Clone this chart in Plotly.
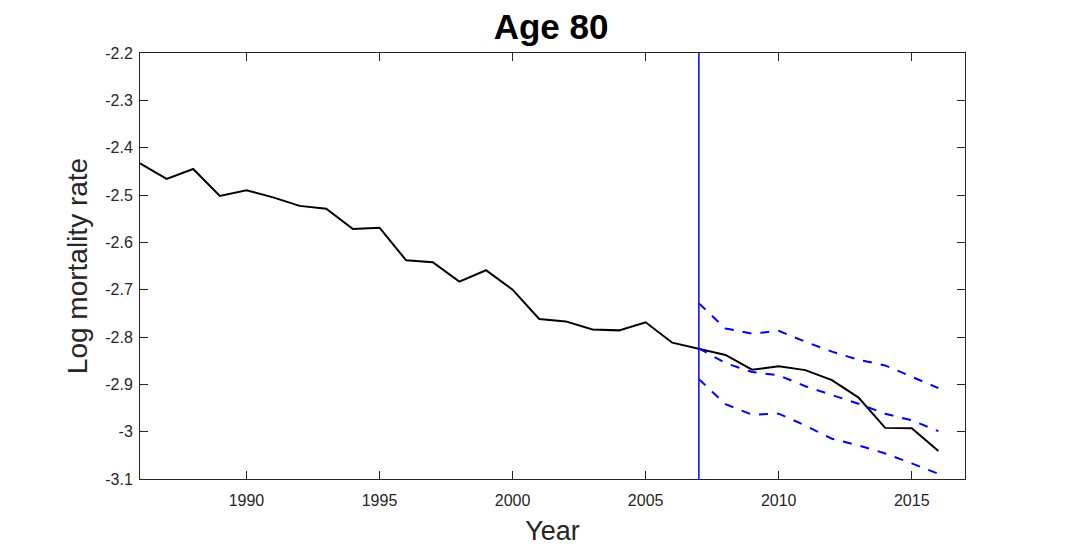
import plotly.graph_objects as go

years = list(range(1986, 2017))
observed = [-2.433, -2.466, -2.445, -2.502, -2.490, -2.505, -2.523, -2.529, -2.572, -2.569,
            -2.638, -2.642, -2.683, -2.659, -2.700, -2.762, -2.767, -2.784, -2.786, -2.769,
            -2.812, -2.825, -2.838, -2.869, -2.862, -2.870, -2.891, -2.928, -2.992, -2.993,
            -3.041]

fc_years = list(range(2007, 2017))
fc_upper = [-2.729, -2.782, -2.793, -2.787, -2.810, -2.831, -2.848, -2.860, -2.884, -2.908]
fc_mid = [-2.824, -2.855, -2.874, -2.881, -2.904, -2.923, -2.941, -2.962, -2.976, -2.999]
fc_lower = [-2.889, -2.942, -2.964, -2.962, -2.987, -3.015, -3.029, -3.046, -3.067, -3.089]

forecast_start = 2007
xtick_vals = [1990, 1995, 2000, 2005, 2010, 2015]
ytick_vals = [-2.2, -2.3, -2.4, -2.5, -2.6, -2.7, -2.8, -2.9, -3.0, -3.1]
ytick_text = ["-2.2", "-2.3", "-2.4", "-2.5", "-2.6", "-2.7", "-2.8", "-2.9", "-3", "-3.1"]

FONT = "Liberation Sans, Arial"

fig = go.Figure()
fig.add_trace(go.Scatter(x=years, y=observed, mode="lines",
                         line=dict(color="black", width=2), showlegend=False))
for ser in (fc_upper, fc_mid, fc_lower):
    fig.add_trace(go.Scatter(x=fc_years, y=ser, mode="lines",
                             line=dict(color="#0000ff", width=2, dash="dash"),
                             showlegend=False))
fig.add_shape(type="line", xref="x", yref="paper", x0=forecast_start, x1=forecast_start,
              y0=0, y1=1, line=dict(color="#0000ff", width=1.5))

axis_common = dict(showline=True, linecolor="#262626", linewidth=1, mirror="ticks",
                   ticks="inside", ticklen=8, tickcolor="#262626", showgrid=False,
                   zeroline=False, tickfont=dict(family=FONT, size=16, color="#262626"))

fig.update_layout(
    width=1067, height=547,
    margin=dict(l=132, r=110, t=45, b=76),
    paper_bgcolor="white", plot_bgcolor="white",
    title=dict(text="<b>Age 80</b>", x=0.509, xanchor="center",
               y=0.965, yanchor="middle",
               font=dict(family=FONT, size=35, color="black")),
    xaxis=dict(range=[1986, 2017], tickvals=xtick_vals, ticklabelstandoff=7,
               title=dict(text="Year", font=dict(family=FONT, size=27, color="#262626"),
                          standoff=12),
               **axis_common),
    yaxis=dict(range=[-3.1, -2.2], tickvals=ytick_vals, ticktext=ytick_text,
               ticklabelstandoff=3,
               title=dict(text="Log mortality rate", font=dict(family=FONT, size=28, color="#262626"),
                          standoff=9),
               **axis_common),
)

fig.write_html("out.html")
